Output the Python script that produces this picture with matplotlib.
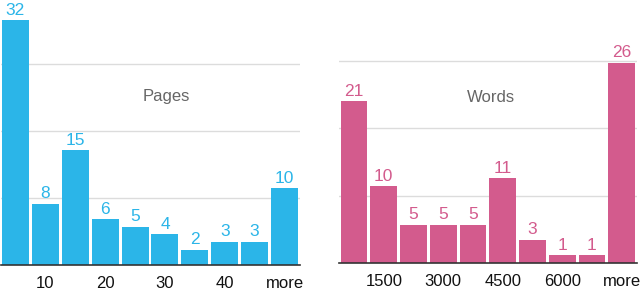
import matplotlib
matplotlib.use("Agg")
import matplotlib.pyplot as plt

pages_values = [32, 8, 15, 6, 5, 4, 2, 3, 3, 10]
pages_ticks = ["", "10", "", "20", "", "30", "", "40", "", "more"]
words_values = [21, 10, 5, 5, 5, 11, 3, 1, 1, 26]
words_ticks = ["", "1500", "", "3000", "", "4500", "", "6000", "", "more"]

plt.rcParams['font.family'] = ['Liberation Sans', 'DejaVu Sans']

fig = plt.figure(figsize=(6.4, 2.9), dpi=100)
W, H = 640.0, 290.0

def panel(rect, values, ticks, color, title, title_xy):
    ax = fig.add_axes(rect)
    x = list(range(len(values)))
    ax.bar(x, values, width=0.9, color=color, zorder=2)
    ax.set_xlim(-0.5, len(values) - 0.5)
    ax.set_ylim(0, 35)
    ax.set_yticks([8.75, 17.5, 26.25])
    ax.yaxis.grid(True, color='#dcdcdc', linewidth=1, zorder=0)
    ax.tick_params(axis='y', left=False, labelleft=False)
    ax.set_xticks(x)
    ax.set_xticklabels(ticks, fontsize=12, color='#111111')
    ax.tick_params(axis='x', length=0, pad=8)
    for s in ['top', 'right', 'left']:
        ax.spines[s].set_visible(False)
    ax.spines['bottom'].set_color('#333333')
    ax.spines['bottom'].set_linewidth(1.2)
    ax.spines['bottom'].set_zorder(3)
    for xi, v in zip(x, values):
        ax.annotate(str(v), (xi, v), xytext=(0, 4), textcoords='offset points',
                    ha='center', va='baseline', fontsize=12.5, color=color)
    fig.text(title_xy[0] / W, 1 - title_xy[1] / H, title, ha='center', va='center',
             fontsize=12, color='#666666')
    return ax

panel([0.5 / W, 25 / H, 299 / W, 267.8 / H], pages_values, pages_ticks,
      '#2bb5e8', 'Pages', (166, 97))
panel([339.2 / W, 27 / H, 297.3 / W, 269.2 / H], words_values, words_ticks,
      '#d35b8d', 'Words', (491, 97))

fig.savefig('out.png', dpi=100)
